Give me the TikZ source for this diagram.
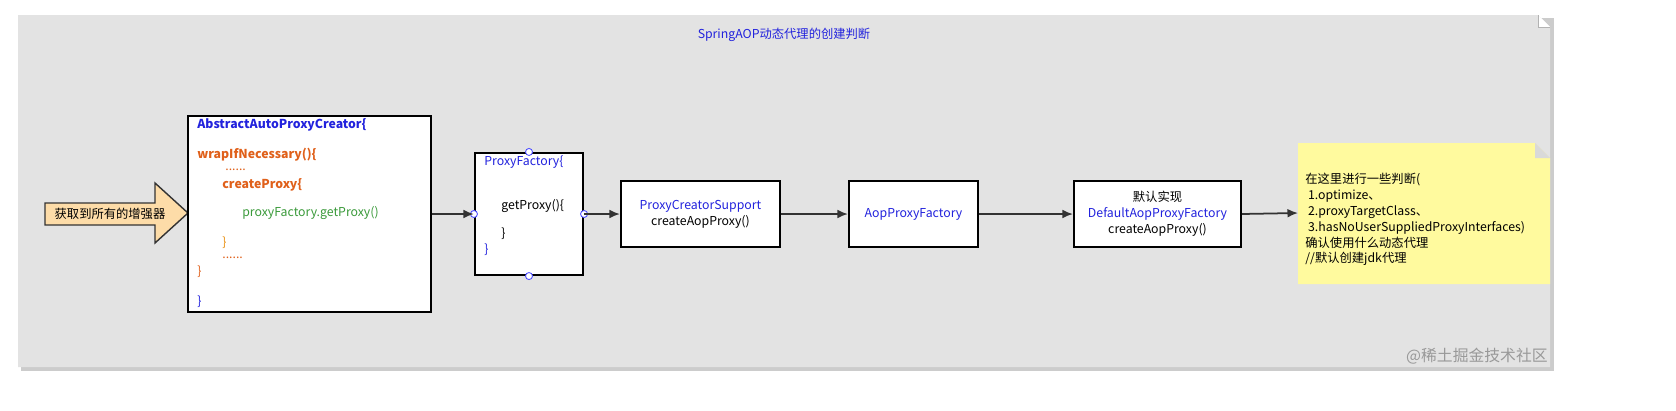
\documentclass[tikz,border=0pt]{standalone}
\usepackage{fontspec}
\setmainfont{Noto Sans CJK SC}
\usetikzlibrary{arrows.meta,positioning,calc}
\definecolor{panel}{HTML}{E3E3E3}
\definecolor{codeblue}{HTML}{2222DD}
\definecolor{codeorange}{HTML}{E0601A}
\definecolor{codegreen}{HTML}{3A9A3A}
\definecolor{notefill}{HTML}{FFFA9E}
\definecolor{arrowfill}{HTML}{FDDCA8}
\tikzset{
box/.style = {draw, line width=1.2pt, fill=white, rectangle, inner sep=0pt},
txt/.style = {font=\fontsize{7}{9}\selectfont, inner sep=0pt},
link/.style = {-{Latex[length=6pt,width=5pt]}, line width=1pt, draw=black!80},
port/.style = {draw=blue!70, fill=white, circle, inner sep=0pt, minimum size=4pt, line width=0.5pt}
}
\begin{document}
\begin{tikzpicture}[x=0.02cm, y=-0.02cm]
\useasboundingbox (0,0) rectangle (1676,410);
% panel
\fill[black!20] (21,18) rectangle (1554,371);
\fill[panel] (18,15) -- (1538,15) -- (1550,27) -- (1550,367) -- (18,367) -- cycle;
\fill[white] (1538,15) -- (1550,27) -- (1538,27) -- cycle;
\draw[black!30] (1538,15) -- (1538,27) -- (1550,27);
\node[txt, text=codeblue] (title) at (784,35) {SpringAOP动态代理的创建判断};
% input arrow
\draw[fill=arrowfill, line width=0.8pt, draw=black!80] (45,203) -- (155,203) -- (155,183) -- (188,213) -- (155,243) -- (155,225) -- (45,225) -- cycle;
\node[txt] (enhancers) at (110,214) {获取到所有的增强器};
% boxes
\node[box, minimum width=4.86cm, minimum height=3.92cm] (creator) at (309.5,214) {};
\coordinate (creatorE) at (431,213);
\node[txt, text=codeblue, anchor=west, font=\bfseries\fontsize{7}{9}\selectfont] at (197,125) {AbstractAutoProxyCreator\{};
\node[txt, text=codeorange, anchor=west, font=\bfseries\fontsize{7}{9}\selectfont] at (197,155) {wrapIfNecessary()\{};
\node[txt, text=codeorange, anchor=west] at (225,170) {......};
\node[txt, text=codeorange, anchor=west, font=\bfseries\fontsize{7}{9}\selectfont] at (222,185) {createProxy\{};
\node[txt, text=codegreen, anchor=west] at (242,213) {proxyFactory.getProxy()};
\node[txt, text=codeorange!70!yellow, anchor=west] at (222,243) {\}};
\node[txt, text=codeorange, anchor=west] at (222,258) {......};
\node[txt, text=codeorange, anchor=west] at (197,272) {\}};
\node[txt, text=codeblue, anchor=west] at (197,302) {\}};
% proxy factory
\node[box, minimum width=2.16cm, minimum height=2.44cm] (factory) at (529,214) {};
\node[txt, text=codeblue, anchor=west] at (484,162) {ProxyFactory\{};
\node[txt, anchor=west] at (501,206) {getProxy()\{};
\node[txt, anchor=west] at (501,234) {\}};
\node[txt, text=codeblue, anchor=west] at (484,250) {\}};
\node[port] at (factory.north) {};
\node[port] at (factory.south) {};
\node[port] at (factory.west) {};
\node[port] at (factory.east) {};
% support
\node[box, minimum width=3.18cm, minimum height=1.32cm, align=center, font=\fontsize{7}{9}\selectfont] (support) at (700.5,214) {\textcolor{codeblue}{ProxyCreatorSupport}\\createAopProxy()};
\node[box, minimum width=2.58cm, minimum height=1.32cm, font=\fontsize{7}{9}\selectfont, text=codeblue] (aopfactory) at (913.5,214) {AopProxyFactory};
\node[box, minimum width=3.34cm, minimum height=1.32cm, align=center, font=\fontsize{7}{9}\selectfont] (default) at (1157.5,214) {默认实现\\\textcolor{codeblue}{DefaultAopProxyFactory}\\createAopProxy()};
% note
\fill[notefill] (1298,143) -- (1535,143) -- (1550,158) -- (1550,284) -- (1298,284) -- cycle;
\fill[black!15] (1535,143) -- (1550,158) -- (1535,158) -- cycle;
\coordinate (noteW) at (1298,213);
\node[txt, anchor=north west, align=left] (note) at (1305,173) {在这里进行一些判断(\\\ 1.optimize、\\\ 2.proxyTargetClass、\\\ 3.hasNoUserSuppliedProxyInterfaces)\\确认使用什么动态代理\\//默认创建jdk代理};
% links
\draw[link] (creator.east) -- (factory.west);
\draw[link] (factory.east) -- (support.west);
\draw[link] (support.east) -- (aopfactory.west);
\draw[link] (aopfactory.east) -- (default.west);
\draw[link] (default.east) -- (noteW);
\node[txt, text=black!40, anchor=east, font=\fontsize{9}{11}\selectfont] (mark) at (1548,356) {@稀土掘金技术社区};
\end{tikzpicture}
\end{document}
